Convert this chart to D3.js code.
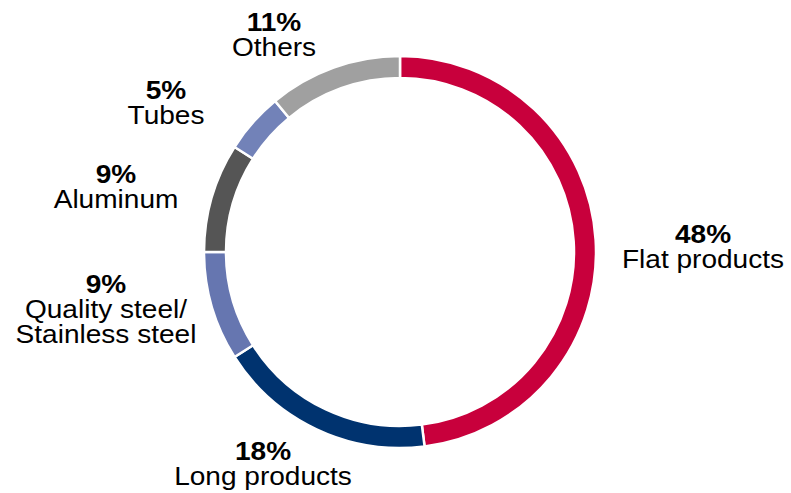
<!DOCTYPE html>
<html>
<head>
<meta charset="utf-8">
<script src="https://cdn.jsdelivr.net/npm/d3@7"></script>
<style>
html,body{margin:0;padding:0;background:#fff;}
svg{display:block;}
text{font-family:"Liberation Sans",Arial,Helvetica,sans-serif;fill:#000;}
</style>
</head>
<body>
<svg id="chart" width="791" height="493"></svg>
<script>
const categories = ["Flat products","Long products","Quality steel/\nStainless steel","Aluminum","Tubes","Others"];
const values = [48,18,9,9,5,11];
const colors = ["#C8003C","#00336F","#6676B0","#555555","#7282B8","#A0A0A0"];
// label anchor points (layout)
const labelPos = [[703,243],[263,460],[106,293],[116,183],[166,99],[274,31]];

const W=791,H=493, cx=400, cy=252, rOuter=196, rInner=174;
const svg=d3.select("#chart");
const g=svg.append("g").attr("transform",`translate(${cx},${cy})`);
const pie=d3.pie().sort(null).value(d=>d.v).startAngle(0).endAngle(2*Math.PI);
const data=categories.map((c,i)=>({c,v:values[i],col:colors[i]}));
const arc=d3.arc().innerRadius(rInner).outerRadius(rOuter);
g.selectAll("path").data(pie(data)).join("path")
  .attr("d",arc).attr("fill",d=>d.data.col)
  .attr("stroke","#fff").attr("stroke-width",2.5).attr("stroke-linejoin","miter");

const fs=25.5, lh=25, sx=1.1;
data.forEach((d,i)=>{
  const [x,y]=labelPos[i];
  const t=svg.append("text").attr("transform",`translate(${x},${y}) scale(${sx},1)`)
    .attr("text-anchor","middle").style("font-size",fs+"px");
  t.append("tspan").attr("x",0).attr("y",0).attr("font-weight","bold").text(d.v+"%");
  d.c.split("\n").forEach((line,j)=>{
    t.append("tspan").attr("x",0).attr("dy",lh).text(line);
  });
});
</script>
</body>
</html>
